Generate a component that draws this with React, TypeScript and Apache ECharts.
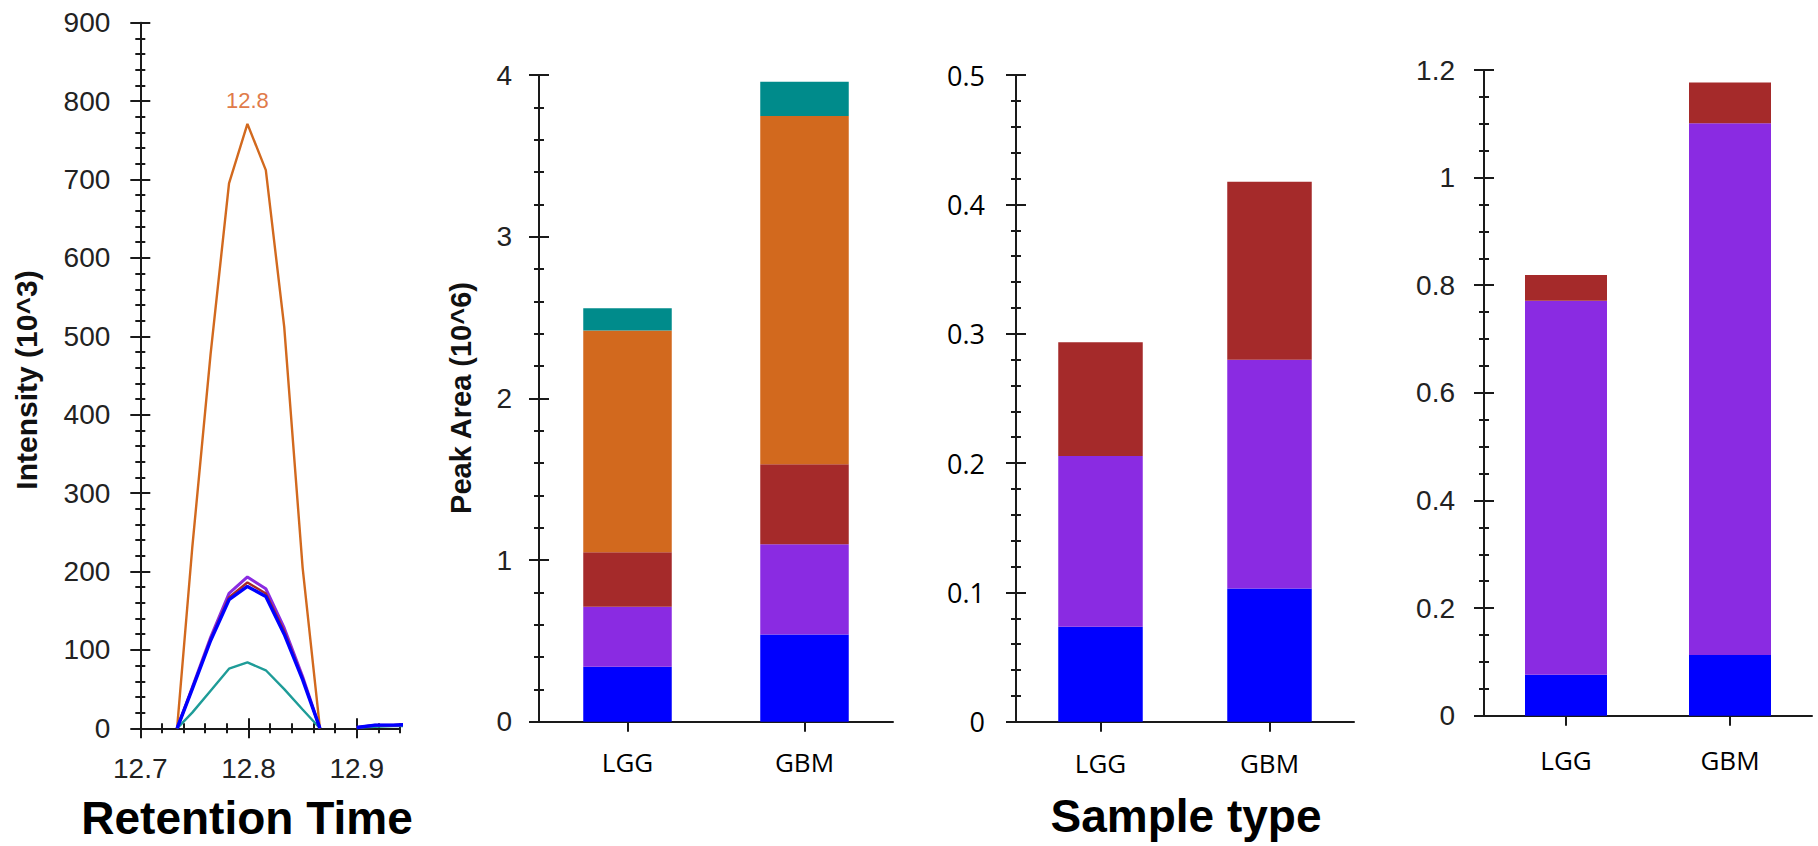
import React, { useEffect, useRef } from "react";
import * as echarts from "echarts";

// ---------- data ----------
const rtTimes = [12.734, 12.748, 12.765, 12.782, 12.799, 12.816, 12.833, 12.85, 12.866];
const orangeTrace = [0, 230, 478, 695, 771, 712, 512, 205, 0];
const tealTrace = [0, 20, 48, 76, 84, 74, 50, 24, 0];
const purpleTrace = [0, 52, 116, 172, 193, 178, 128, 66, 0];
const brownTrace = [0, 51, 114, 167, 186, 172, 124, 64, 0];
const blueTrace = [0, 50, 112, 164, 181, 168, 120, 62, 0];
const gapTime = 12.883;
const tailTimes = [12.9, 12.917, 12.934, 12.951];
const tealTail = [1, 2, 3, 3];
const purpleTail = [1, 4, 4, 5];
const brownTail = [1, 4, 4, 5];
const blueTail = [1, 4, 4, 5];
const rtTickLabels = [12.7, 12.8, 12.9];
const peakLabel = "12.8";

const sampleTypes = ["LGG", "GBM"];
// panel 2, Peak Area (10^6)
const p2Blue = [0.34, 0.54];
const p2Purple = [0.371, 0.557];
const p2Brown = [0.337, 0.495];
const p2Orange = [1.372, 2.154];
const p2Teal = [0.137, 0.212];
// panel 3
const p3Blue = [0.0735, 0.103];
const p3Purple = [0.132, 0.177];
const p3Brown = [0.088, 0.1375];
// panel 4
const p4Blue = [0.076, 0.113];
const p4Purple = [0.695, 0.988];
const p4Brown = [0.048, 0.076];

const C_BLUE = "#0000FF";
const C_PURPLE = "#8A2BE2";
const C_BROWN = "#A52A2A";
const C_ORANGE = "#D2691E";
const C_TEAL = "#008B8B";
const C_AXIS = "#1a1a1a";

const ARIAL = '"Liberation Sans", Arial, sans-serif';
const SEGOE = '"Open Sans", "Noto Sans", sans-serif';

function traceData(values: number[], tail: number[] | null) {
  const d: any[] = rtTimes.map((t, i) => [t, values[i]]);
  if (tail) {
    d.push([gapTime, null]);
    tailTimes.forEach((t, i) => d.push([t, tail[i]]));
  }
  return d;
}

function yPair(gridIndex: number, min: number, max: number, interval: number, minorSplit: number, label: any) {
  const base = {
    type: "value",
    gridIndex,
    position: "left",
    min,
    max,
    interval,
    splitLine: { show: false },
  };
  return [
    {
      ...base,
      axisLine: { show: true, lineStyle: { color: C_AXIS, width: 2 } },
      axisTick: { show: true, length: 10, lineStyle: { color: C_AXIS, width: 2 } },
      minorTick: { show: true, splitNumber: minorSplit, length: 5, lineStyle: { color: C_AXIS, width: 2 } },
      axisLabel: { show: true, ...label },
    },
    {
      ...base,
      axisLine: { show: false },
      axisTick: { show: true, inside: true, length: 10, lineStyle: { color: C_AXIS, width: 2 } },
      minorTick: { show: true, splitNumber: minorSplit, length: 5, lineStyle: { color: C_AXIS, width: 2 } },
      axisLabel: { show: false },
    },
  ];
}

function catPair(gridIndex: number, label: any) {
  const base = {
    type: "category",
    gridIndex,
    position: "bottom",
    data: sampleTypes,
    splitLine: { show: false },
  };
  return [
    {
      ...base,
      axisLine: { show: true, onZero: false, lineStyle: { color: C_AXIS, width: 2 } },
      axisTick: { show: true, alignWithLabel: true, length: 10, lineStyle: { color: C_AXIS, width: 2 } },
      axisLabel: { show: true, ...label },
    },
    {
      ...base,
      axisLine: { show: false, onZero: false },
      axisTick: { show: true, inside: true, alignWithLabel: true, length: 10, lineStyle: { color: C_AXIS, width: 2 } },
      axisLabel: { show: false },
    },
  ];
}

export default function App() {
  const ref = useRef<HTMLDivElement>(null);

  useEffect(() => {
    document.body.style.margin = "0";
    if (!ref.current) return;
    const chart = echarts.init(ref.current, null, { renderer: "svg" });

    const numLabel = { fontFamily: ARIAL, fontSize: 28, color: "#222" };
    const rtBase = { type: "value", gridIndex: 0, position: "bottom", min: 12.7, max: 12.94, splitLine: { show: false } };

    const peakIdx = orangeTrace.indexOf(Math.max(...orangeTrace));

    const option: any = {
      animation: false,
      backgroundColor: "#ffffff",
      grid: [
        { left: 140.3, top: 22.7, width: 259.7, height: 705.6 },
        { left: 539, top: 75, width: 354, height: 646.7 },
        { left: 1016, top: 75.2, width: 338, height: 646.5 },
        { left: 1484, top: 70, width: 328, height: 645.7 },
      ],
      xAxis: [
        {
          ...rtBase,
          interval: 0.02,
          axisLine: { show: true, onZero: false, lineStyle: { color: C_AXIS, width: 2 } },
          axisTick: { show: true, length: 5, lineStyle: { color: C_AXIS, width: 2 } },
          axisLabel: { show: false },
        },
        {
          ...rtBase,
          interval: 0.02,
          axisLine: { show: false, onZero: false },
          axisTick: { show: true, inside: true, length: 5, lineStyle: { color: C_AXIS, width: 2 } },
          axisLabel: { show: false },
        },
        {
          ...rtBase,
          interval: 0.1,
          axisLine: { show: false, onZero: false },
          axisTick: { show: true, length: 10, customValues: rtTickLabels, lineStyle: { color: C_AXIS, width: 2 } },
          axisLabel: {
            show: true,
            customValues: rtTickLabels,
            formatter: (v: number) => v.toFixed(1),
            margin: 26,
            ...numLabel,
          },
        },
        {
          ...rtBase,
          interval: 0.1,
          axisLine: { show: false, onZero: false },
          axisTick: { show: true, inside: true, length: 10, customValues: rtTickLabels, lineStyle: { color: C_AXIS, width: 2 } },
          axisLabel: { show: false },
        },
        ...catPair(1, { fontFamily: SEGOE, fontSize: 26, color: "#000", margin: 27 }),
        ...catPair(2, { fontFamily: SEGOE, fontSize: 26, color: "#000", margin: 28 }),
        ...catPair(3, { fontFamily: SEGOE, fontSize: 26, color: "#000", margin: 31 }),
      ],
      yAxis: [
        ...yPair(0, 0, 900, 100, 5, { ...numLabel, margin: 30 }),
        ...yPair(1, 0, 4, 1, 5, { ...numLabel, margin: 27 }),
        ...yPair(2, 0, 0.5, 0.1, 5, { fontFamily: SEGOE, fontSize: 27, color: "#000", margin: 31 }),
        ...yPair(3, 0, 1.2, 0.2, 4, { ...numLabel, margin: 29 }),
      ],
      series: [
        {
          type: "line",
          xAxisIndex: 0,
          yAxisIndex: 0,
          showSymbol: false,
          data: traceData(orangeTrace, null),
          lineStyle: { color: C_ORANGE, width: 2.4 },
          itemStyle: { color: C_ORANGE },
          z: 2,
          markPoint: {
            symbol: "circle",
            symbolSize: 1,
            itemStyle: { color: "rgba(0,0,0,0)" },
            label: {
              show: true,
              position: "top",
              distance: 12,
              formatter: peakLabel,
              fontFamily: ARIAL,
              fontSize: 22,
              color: "#E07B4A",
            },
            data: [{ coord: [rtTimes[peakIdx], orangeTrace[peakIdx]] }],
          },
        },
        {
          type: "line",
          xAxisIndex: 0,
          yAxisIndex: 0,
          showSymbol: false,
          data: traceData(tealTrace, tealTail),
          lineStyle: { color: "#1E9C98", width: 2.4 },
          z: 3,
        },
        {
          type: "line",
          xAxisIndex: 0,
          yAxisIndex: 0,
          showSymbol: false,
          data: traceData(purpleTrace, purpleTail),
          lineStyle: { color: C_PURPLE, width: 3 },
          z: 4,
        },
        {
          type: "line",
          xAxisIndex: 0,
          yAxisIndex: 0,
          showSymbol: false,
          data: traceData(brownTrace, brownTail),
          lineStyle: { color: C_BROWN, width: 2.5 },
          z: 5,
        },
        {
          type: "line",
          xAxisIndex: 0,
          yAxisIndex: 0,
          showSymbol: false,
          data: traceData(blueTrace, blueTail),
          lineStyle: { color: C_BLUE, width: 3.4 },
          z: 6,
        },
        // panel 2
        { type: "bar", xAxisIndex: 4, yAxisIndex: 2, stack: "p2", barWidth: "50%", data: p2Blue, itemStyle: { color: C_BLUE } },
        { type: "bar", xAxisIndex: 4, yAxisIndex: 2, stack: "p2", barWidth: "50%", data: p2Purple, itemStyle: { color: C_PURPLE } },
        { type: "bar", xAxisIndex: 4, yAxisIndex: 2, stack: "p2", barWidth: "50%", data: p2Brown, itemStyle: { color: C_BROWN } },
        { type: "bar", xAxisIndex: 4, yAxisIndex: 2, stack: "p2", barWidth: "50%", data: p2Orange, itemStyle: { color: C_ORANGE } },
        { type: "bar", xAxisIndex: 4, yAxisIndex: 2, stack: "p2", barWidth: "50%", data: p2Teal, itemStyle: { color: C_TEAL } },
        // panel 3
        { type: "bar", xAxisIndex: 6, yAxisIndex: 4, stack: "p3", barWidth: "50%", data: p3Blue, itemStyle: { color: C_BLUE } },
        { type: "bar", xAxisIndex: 6, yAxisIndex: 4, stack: "p3", barWidth: "50%", data: p3Purple, itemStyle: { color: C_PURPLE } },
        { type: "bar", xAxisIndex: 6, yAxisIndex: 4, stack: "p3", barWidth: "50%", data: p3Brown, itemStyle: { color: C_BROWN } },
        // panel 4
        { type: "bar", xAxisIndex: 8, yAxisIndex: 6, stack: "p4", barWidth: "50%", data: p4Blue, itemStyle: { color: C_BLUE } },
        { type: "bar", xAxisIndex: 8, yAxisIndex: 6, stack: "p4", barWidth: "50%", data: p4Purple, itemStyle: { color: C_PURPLE } },
        { type: "bar", xAxisIndex: 8, yAxisIndex: 6, stack: "p4", barWidth: "50%", data: p4Brown, itemStyle: { color: C_BROWN } },
      ],
      graphic: [
        {
          type: "text",
          x: 26,
          y: 380,
          rotation: Math.PI / 2,
          style: {
            text: "Intensity (10^3)",
            fontFamily: ARIAL,
            fontWeight: "bold",
            fontSize: 30,
            fill: "#111",
            align: "center",
            verticalAlign: "middle",
          },
        },
        {
          type: "text",
          x: 461,
          y: 398,
          rotation: Math.PI / 2,
          style: {
            text: "Peak Area (10^6)",
            fontFamily: ARIAL,
            fontWeight: "bold",
            fontSize: 29,
            fill: "#111",
            align: "center",
            verticalAlign: "middle",
          },
        },
        {
          type: "text",
          x: 247,
          y: 818,
          style: {
            text: "Retention Time",
            fontFamily: ARIAL,
            fontWeight: "bold",
            fontSize: 46,
            lineHeight: 46,
            fill: "#000",
            align: "center",
            verticalAlign: "middle",
          },
        },
        {
          type: "text",
          x: 1186,
          y: 816,
          style: {
            text: "Sample type",
            fontFamily: ARIAL,
            fontWeight: "bold",
            fontSize: 46,
            lineHeight: 46,
            fill: "#000",
            align: "center",
            verticalAlign: "middle",
          },
        },
      ],
    };

    chart.setOption(option);
    return () => {
      chart.dispose();
    };
  }, []);

  return <div ref={ref} style={{ width: 1818, height: 846 }} />;
}
